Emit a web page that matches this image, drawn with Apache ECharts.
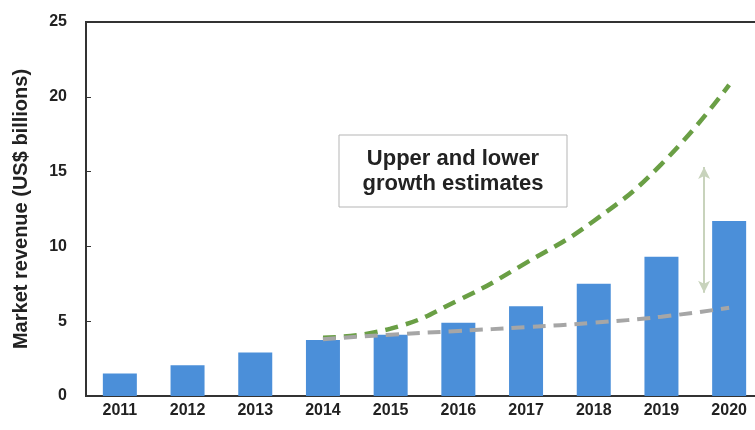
<!DOCTYPE html>
<html>
<head>
<meta charset="utf-8">
<script src="https://cdn.jsdelivr.net/npm/echarts@6/dist/echarts.min.js"></script>
<style>
  html, body { margin: 0; padding: 0; background: #fff; }
  #chart { width: 755px; height: 430px; }
</style>
</head>
<body>
<div id="chart"></div>
<script>
// years on the x axis
var years = ['2011', '2012', '2013', '2014', '2015', '2016', '2017', '2018', '2019', '2020'];
// market revenue, US$ billions
var revenue = [1.5, 2.05, 2.9, 3.75, 4.1, 4.9, 6.0, 7.5, 9.3, 11.7];
// upper / lower growth estimates (start in 2014)
var upperEstimate = ['-', '-', '-', 3.9, 4.5, 6.4, 8.9, 11.7, 15.5, 20.8];
var lowerEstimate = ['-', '-', '-', 3.8, 4.1, 4.35, 4.6, 4.9, 5.3, 5.9];
// double arrow between the estimates (x in category index units)
var arrowX = 8.63;
var arrowRange = [15.3, 6.9];

var chart = echarts.init(document.getElementById('chart'));
var font = '"Liberation Sans", Arial, sans-serif';

var option = {
    animation: false,
    textStyle: {fontFamily: font},
    grid: {
        left: 86, top: 22, width: 677, bottom: 34,
        outerBoundsMode: 'none',
        show: true, borderColor: '#333', borderWidth: 2, backgroundColor: '#fff'
    },
    xAxis: [{
        type: 'category',
        data: years,
        axisLine: {lineStyle: {color: '#333', width: 2}},
        axisTick: {show: false},
        axisLabel: {color: '#222', fontWeight: 'bold', fontSize: 16, margin: 7, fontFamily: font}
    }, {
        type: 'value', min: -0.5, max: 9.5, show: false
    }],
    yAxis: {
        type: 'value', min: 0, max: 25, interval: 5,
        name: 'Market revenue (US$ billions)',
        nameLocation: 'middle', nameGap: 55,
        nameTextStyle: {color: '#222', fontWeight: 'bold', fontSize: 20, fontFamily: font},
        axisLine: {show: true, onZero: false, lineStyle: {color: '#333', width: 2}},
        axisTick: {show: true, inside: true, length: 5, lineStyle: {color: '#333'}},
        axisLabel: {color: '#222', fontWeight: 'bold', fontSize: 16, margin: 19, fontFamily: font},
        splitLine: {show: false}
    },
    series: [{
        name: 'Revenue', type: 'bar', data: revenue, barWidth: 34,
        itemStyle: {color: '#4b8fd9'}
    }, {
        name: 'Upper', type: 'line', data: upperEstimate, smooth: true,
        symbol: 'none', z: 3,
        lineStyle: {color: '#6a9f45', width: 4.5, type: [13, 8]}
    }, {
        name: 'Lower', type: 'line', data: lowerEstimate, smooth: true,
        symbol: 'none', z: 3,
        lineStyle: {color: '#a6a6a6', width: 4, type: [13, 8]}
    }, {
        name: 'Arrow', type: 'scatter', xAxisIndex: 1, symbolSize: 0,
        data: [[arrowX, arrowRange[0]], [arrowX, arrowRange[1]]],
        markLine: {
            silent: true, symbol: ['arrow', 'arrow'], symbolSize: [9, 12],
            label: {show: false},
            lineStyle: {color: '#c8d3bc', width: 2, type: 'solid'},
            data: [[{coord: [arrowX, arrowRange[0]]}, {coord: [arrowX, arrowRange[1]]}]]
        }
    }],
    graphic: [{
        type: 'rect', x: 339, y: 135, z: 10,
        shape: {width: 228, height: 72},
        style: {fill: '#fff', stroke: '#b5b5b5', lineWidth: 1}
    }, {
        type: 'text', x: 453, y: 171, z: 11,
        style: {
            text: 'Upper and lower\ngrowth estimates',
            textAlign: 'center', textVerticalAlign: 'middle',
            font: 'bold 22px ' + font, fill: '#222', lineHeight: 25
        }
    }]
};

chart.setOption(option);
</script>
</body>
</html>
